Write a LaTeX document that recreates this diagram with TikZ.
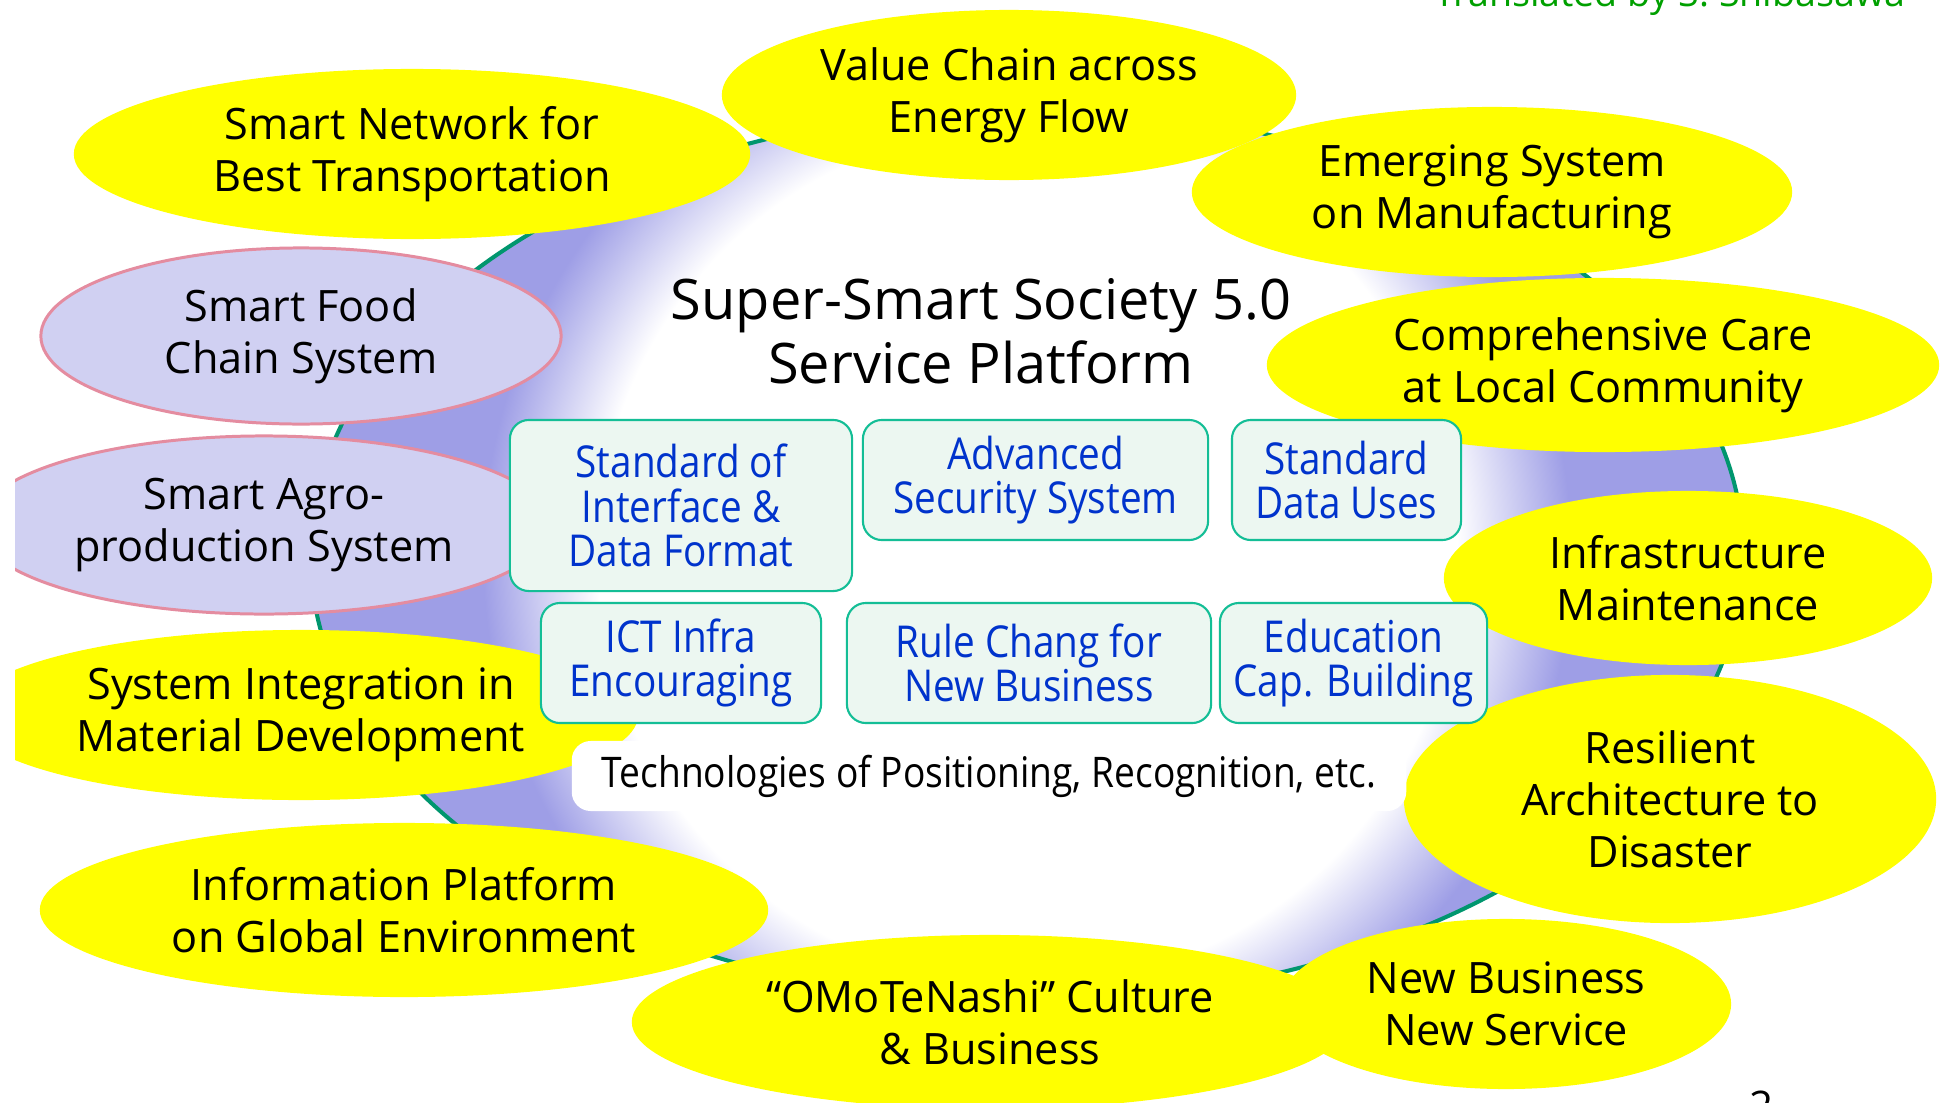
\documentclass[tikz,border=0pt]{standalone}
\usepackage{fontspec}
\setmainfont{Open Sans}
\newfontfamily\condfont[FakeStretch=0.88]{Open Sans}
\usetikzlibrary{shapes.geometric}

\definecolor{bubbleyellow}{RGB}{255,255,0}
\definecolor{lavender}{RGB}{208,208,242}
\definecolor{lavrim}{RGB}{228,140,160}
\definecolor{platfill}{RGB}{158,158,230}
\definecolor{platrim}{RGB}{0,150,110}
\definecolor{tilefill}{RGB}{236,247,241}
\definecolor{tilerim}{RGB}{20,190,150}
\definecolor{tiletext}{RGB}{0,51,204}
\definecolor{credit}{RGB}{0,160,0}

% circular glow: white core, lavender-blue rim
\pgfdeclareradialshading{platformglow}{\pgfpoint{0bp}{0bp}}{%
  color(0bp)=(white); color(15bp)=(white); color(19bp)=(platfill);
  color(25bp)=(platfill); color(50bp)=(platfill)}

\tikzset{
  bubble/.style={ellipse, fill=bubbleyellow, inner sep=0pt, align=center,
    font=\fontsize{12.3pt}{14.8pt}\selectfont},
  agri/.style={ellipse, fill=lavender, draw=lavrim, line width=0.85pt,
    inner sep=0pt, align=center, font=\fontsize{12.3pt}{14.8pt}\selectfont},
  tile/.style={rectangle, rounded corners=0.19cm, draw=tilerim, line width=0.6pt,
    fill=tilefill, text=tiletext, inner sep=0pt, align=center,
    font=\condfont\fontsize{12.5pt}{12.7pt}\selectfont},
}

\begin{document}
\begin{tikzpicture}[x=0.01cm, y=-0.01cm]
\useasboundingbox (0,0) rectangle (1942,1103);
\fill[white] (0,0) rectangle (1942,1103);

\begin{scope}
\clip (15,0) rectangle (1942,1103);

% central platform
\node[ellipse, draw=platrim, line width=1.15pt, inner sep=0pt,
  minimum width=14.32cm, minimum height=8.92cm,
  path picture={\shade[shading=platformglow]
    ([shift={(-7.16cm,-7.16cm)}]path picture bounding box.center) rectangle
    ([shift={(7.16cm,7.16cm)}]path picture bounding box.center);}]
  (platform) at (1027,555) {};

% surrounding application fields
\node[bubble, minimum width=5.74cm, minimum height=1.70cm] (vchain) at (1009,95)
  {Value Chain across\\Energy Flow};
\node[bubble, minimum width=6.76cm, minimum height=1.70cm] (snet) at (412,154)
  {Smart Network for\\Best Transportation};
\node[bubble, minimum width=6.00cm, minimum height=1.70cm] (emerg) at (1492,192)
  {Emerging System\\on Manufacturing};
\node[bubble, minimum width=6.72cm, minimum height=1.74cm] (ccare) at (1603,365)
  {Comprehensive Care\\at Local Community};
\node[bubble, minimum width=4.88cm, minimum height=1.74cm] (infra) at (1688,578)
  {Infrastructure\\Maintenance};
\node[bubble, minimum width=5.32cm, minimum height=2.48cm] (resil) at (1670,799)
  {Resilient\\Architecture to\\Disaster};
\node[bubble, minimum width=7.16cm, minimum height=1.74cm] (omote) at (990,1022)
  {“OMoTeNashi” Culture\\\& Business};
\node[bubble, minimum width=4.50cm, minimum height=1.70cm] (newbiz) at (1506,1004)
  {New Business\\New Service};
\node[bubble, minimum width=7.28cm, minimum height=1.74cm] (infoplat) at (404,910)
  {Information Platform\\on Global Environment};
\node[bubble, minimum width=6.74cm, minimum height=1.70cm] (sysint) at (301,715)
  {System Integration in\\Material Development};
\node[agri, minimum width=5.74cm, minimum height=1.78cm] (agro) at (264,525)
  {Smart Agro-\\production System};
\node[agri, minimum width=5.20cm, minimum height=1.76cm] (food) at (301,336)
  {Smart Food\\Chain System};

% title
\node[align=center, font=\fontsize{15.9pt}{18.2pt}\selectfont] (title) at (981,331)
  {Super-Smart Society 5.0\\Service Platform};

% platform building blocks
\node[tile, minimum width=3.42cm, minimum height=1.71cm] (iface) at (681,505.5)
  {Standard of\\Interface \&\\Data Format};
\node[tile, minimum width=3.45cm, minimum height=1.20cm] (secur) at (1035.5,480)
  {Advanced\\Security System};
\node[tile, minimum width=2.29cm, minimum height=1.20cm] (datau) at (1346.5,480)
  {Standard\\Data Uses};
\node[tile, minimum width=2.80cm, minimum height=1.20cm] (ict) at (681,663)
  {ICT Infra\\Encouraging};
\node[tile, minimum width=3.64cm, minimum height=1.20cm] (rule) at (1029,663)
  {Rule Chang for\\New Business};
\node[tile, minimum width=2.67cm, minimum height=1.20cm] (edu) at (1353.5,663)
  {Education\\Cap. Building};
\node[rectangle, rounded corners=0.19cm, fill=white, inner sep=0pt,
  minimum width=8.34cm, minimum height=0.70cm,
  font=\condfont\fontsize{12pt}{14pt}\selectfont] (tech) at (989,776)
  {Technologies of Positioning, Recognition, etc.};

% page furniture
\node[anchor=base, inner sep=0pt, text=credit, font=\fontsize{10.7pt}{13pt}\selectfont]
  (translator) at (1670,7) {Translated by S. Shibasawa};
\node[anchor=north, inner sep=0pt, font=\fontsize{12pt}{14pt}\selectfont]
  (pageno) at (1762,1090) {2};
\end{scope}
\end{tikzpicture}
\end{document}
